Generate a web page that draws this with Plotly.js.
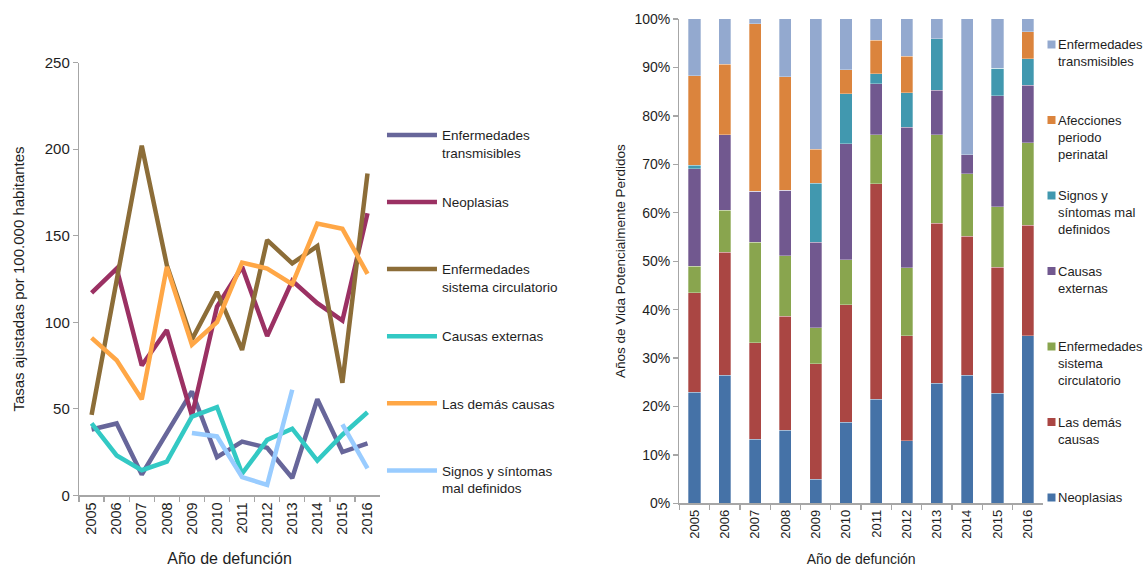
<!DOCTYPE html>
<html>
<head>
<meta charset="utf-8">
<script src="https://cdn.plot.ly/plotly-3.0.1.min.js"></script>
<style>
html,body{margin:0;padding:0;background:#fff;}
#chart{width:1144px;height:567px;}
</style>
</head>
<body>
<div id="chart"></div>
<script>
// ---------- Data ----------
const years = ["2005","2006","2007","2008","2009","2010","2011","2012","2013","2014","2015","2016"];

// Left chart: tasas ajustadas por 100.000 habitantes
const tasaTransmisibles = [38, 41.5, 12, 36, 60, 22, 31, 27.5, 10, 55.5, 25, 30];
const tasaNeoplasias    = [117, 131, 75, 95.5, 46, 109, 132, 92, 124, 111, 101, 163];
const tasaCirculatorio  = [46.5, 125, 202, 133, 90, 117.5, 84, 147.5, 134, 144, 65, 186];
const tasaExternas      = [41.5, 23, 14.5, 19.5, 45.5, 51, 12.5, 32, 38.5, 20, 35, 48];
const tasaDemas         = [91, 78, 55.5, 132, 87, 100, 134.5, 131, 122, 157, 154, 128];
const tasaSignos        = [null, null, null, null, 36, 34, 10.5, 6, 61, null, 41, 15.5];

// Right chart: % Años de Vida Potencialmente Perdidos
const avppNeoplasias    = [22.9, 26.4, 13.2, 15.1, 5.0, 16.7, 21.5, 12.9, 24.8, 26.4, 22.7, 34.6];
const avppDemas         = [20.6, 25.4, 20.0, 23.5, 23.8, 24.3, 44.5, 21.7, 33.0, 28.7, 26.0, 22.8];
const avppCirculatorio  = [5.5, 8.7, 20.7, 12.5, 7.4, 9.3, 10.1, 14.0, 18.3, 12.9, 12.5, 17.0];
const avppExternas      = [20.1, 15.6, 10.5, 13.5, 17.7, 23.9, 10.5, 29.0, 9.2, 4.0, 23.0, 11.9];
const avppSignos        = [0.7, 0, 0, 0, 12.2, 10.4, 2.1, 7.2, 10.6, 0, 5.6, 5.5];
const avppPerinatal     = [18.5, 14.6, 34.6, 23.5, 7.0, 4.9, 6.9, 7.5, 0, 0, 0, 5.6];
const avppTransmisibles = [11.7, 9.3, 1.0, 11.9, 26.9, 10.5, 4.4, 7.7, 4.1, 28.0, 10.2, 2.6];

const yTicksLeft = [0, 50, 100, 150, 200, 250];
const yTicksRight = [0, 10, 20, 30, 40, 50, 60, 70, 80, 90, 100];
const yTickTextRight = yTicksRight.map(v => v + '%');

// ---------- Styling ----------
const FONT = '"Liberation Sans Narrow", "Arial Narrow", "Liberation Sans", Arial, sans-serif';
const TXT = '#1e1e1e';
const AX = '#a6a6a6';
const W = 1144, H = 567;

function lineTrace(name, y, color) {
  return {
    type: 'scatter', mode: 'lines', x: years, y: y, name: name,
    xaxis: 'x', yaxis: 'y', legendgroup: name,
    connectgaps: false,
    line: {color: color, width: 4.5},
    hoverinfo: 'x+y+name'
  };
}

// Bar series, bottom to top of stack
const barSeries = [
  {name: 'Neoplasias', label: 'Neoplasias', y: avppNeoplasias, color: '#4572A7'},
  {name: 'Las demás causas', label: 'Las demás<br>causas', y: avppDemas, color: '#AA4643'},
  {name: 'Enfermedades sistema circulatorio', label: 'Enfermedades<br>sistema<br>circulatorio', y: avppCirculatorio, color: '#89A54E'},
  {name: 'Causas externas', label: 'Causas<br>externas', y: avppExternas, color: '#71588F'},
  {name: 'Signos y síntomas mal definidos', label: 'Signos y<br>síntomas mal<br>definidos', y: avppSignos, color: '#4198AF'},
  {name: 'Afecciones periodo perinatal', label: 'Afecciones<br>periodo<br>perinatal', y: avppPerinatal, color: '#DB843D'},
  {name: 'Enfermedades transmisibles', label: 'Enfermedades<br>transmisibles', y: avppTransmisibles, color: '#93A9CF'}
];

const data = [
  lineTrace('Enfermedades<br>transmisibles', tasaTransmisibles, '#67669A'),
  lineTrace('Neoplasias<br> ', tasaNeoplasias, '#9B3163'),
  lineTrace('Enfermedades<br>sistema circulatorio', tasaCirculatorio, '#8C6D38'),
  lineTrace('Causas externas<br> ', tasaExternas, '#33C9C4'),
  lineTrace('Las demás causas<br> ', tasaDemas, '#FFA746'),
  lineTrace('Signos y síntomas<br>mal definidos', tasaSignos, '#99CCFF')
].concat(barSeries.map(s => ({
  type: 'bar', x: years, y: s.y, name: s.name, showlegend: false,
  xaxis: 'x2', yaxis: 'y2',
  marker: {color: s.color, line: {color: 'rgba(255,255,255,0.5)', width: 0.6}}
})));

// Legend for the stacked bars (top entry = top of stack)
const LEG2 = {sqX: 1051.5, sq: 8, textX: 1056, firstY: 44.5, step: 75.5, font: 13};
const legendShapes = [], legendAnns = [];
barSeries.slice().reverse().forEach((s, i) => {
  const cy = LEG2.firstY + i * LEG2.step;
  legendShapes.push({
    type: 'rect', xref: 'paper', yref: 'paper',
    x0: (LEG2.sqX - LEG2.sq / 2) / W, x1: (LEG2.sqX + LEG2.sq / 2) / W,
    y0: 1 - (cy + LEG2.sq / 2) / H, y1: 1 - (cy - LEG2.sq / 2) / H,
    fillcolor: s.color, line: {width: 0}
  });
  legendAnns.push({
    xref: 'paper', yref: 'paper', x: LEG2.textX / W, y: 1 - (cy - LEG2.font * 0.65 - 1) / H,
    xanchor: 'left', yanchor: 'top', align: 'left', showarrow: false,
    text: s.label, font: {size: LEG2.font, color: TXT}
  });
});

const layout = {
  width: W, height: H,
  margin: {l: 0, r: 0, t: 0, b: 0},
  paper_bgcolor: '#fff', plot_bgcolor: '#fff',
  font: {family: FONT, color: TXT, size: 14},
  showlegend: true,
  barmode: 'stack', barnorm: 'percent', bargap: 0.6,
  xaxis: {
    domain: [0.0691, 0.3322], type: 'category', categoryorder: 'array', categoryarray: years,
    range: [-0.5, 11.5], showline: true, linecolor: AX, linewidth: 1.3,
    ticks: 'outside', tickson: 'boundaries', ticklen: 5, tickcolor: AX, tickwidth: 1.3,
    tickangle: -90, tickfont: {size: 14.5}, showgrid: false, zeroline: false,
    title: {text: 'Año de defunción', font: {size: 16}, standoff: 21}
  },
  yaxis: {
    domain: [0.1265, 0.8894], range: [0, 250], tickvals: yTicksLeft,
    showline: true, linecolor: AX, linewidth: 1.3,
    ticks: 'outside', ticklen: 5, tickcolor: AX, tickwidth: 1.3,
    tickfont: {size: 15}, showgrid: false, zeroline: false,
    title: {text: 'Tasas ajustadas por 100.000 habitantes', font: {size: 15}, standoff: 16}
  },
  xaxis2: {
    domain: [0.5938, 0.9117], type: 'category', categoryorder: 'array', categoryarray: years,
    range: [-0.5, 11.5], showline: true, linecolor: AX, linewidth: 1.3, anchor: 'y2',
    ticks: 'outside', tickson: 'boundaries', ticklen: 5, tickcolor: AX, tickwidth: 1.3,
    tickangle: -90, tickfont: {size: 13}, showgrid: false, zeroline: false,
    title: {text: 'Año de defunción', font: {size: 14}, standoff: 20}
  },
  yaxis2: {
    domain: [0.1123, 0.9665], range: [0, 100], tickmode: 'array',
    tickvals: yTicksRight, ticktext: yTickTextRight,
    anchor: 'x2', showline: true, linecolor: AX, linewidth: 1.3,
    ticks: 'outside', ticklen: 5, tickcolor: AX, tickwidth: 1.3,
    tickfont: {size: 14}, showgrid: false, zeroline: false,
    title: {text: 'Años de Vida Potencialmente Perdidos', font: {size: 13.5}, standoff: 5}
  },
  legend: {
    x: 0.3339, xanchor: 'left', y: 0.789, yanchor: 'top',
    traceorder: 'grouped', tracegroupgap: 29, valign: 'top',
    itemwidth: 50, font: {size: 13.5, color: TXT}, bgcolor: 'rgba(0,0,0,0)', itemclick: false
  },
  shapes: legendShapes,
  annotations: legendAnns
};

Plotly.newPlot('chart', data, layout, {displayModeBar: false, staticPlot: true});
</script>
</body>
</html>
